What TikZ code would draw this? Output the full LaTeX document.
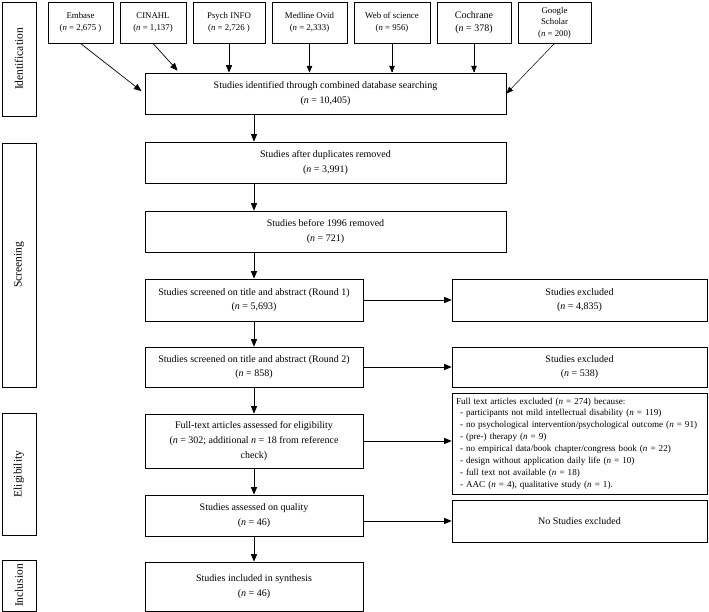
\documentclass[tikz,border=0pt]{standalone}
\usepackage{fontspec}
\setmainfont{Liberation Serif}
\usetikzlibrary{positioning,calc,arrows}
\tikzstyle{edge} = [-triangle 45, line width=0.7pt]
\tikzstyle{thinedge} = [-triangle 45, line width=0.5pt]
\tikzstyle{box} = [draw, line width=0.9pt, align=center, inner sep=0pt]
\newcommand{\nn}{\textit{n}}

\begin{document}
\begin{tikzpicture}[x=1pt, y=-1pt]
\tikzstyle{every node}=[font=\fontsize{10}{14.5}\selectfont]
\tikzstyle{stage}=[box, rotate=90, minimum height=34, font=\fontsize{11.5}{13}\selectfont]
\tikzstyle{db}=[box, minimum height=41, font=\fontsize{8.8}{12.5}\selectfont]
\tikzstyle{wide}=[box, minimum width=361, minimum height=41]
\tikzstyle{narrow}=[box, minimum width=218, minimum height=41]
\tikzstyle{excl}=[box, minimum width=255, minimum height=41]
\useasboundingbox (0,0) rectangle (709,612);

	% stages
	\node[stage, minimum width=114] (ident) at (19,59) {Identification};
	\node[stage, minimum width=244] (screen) at (19,265) {Screening};
	\node[stage, minimum width=122] (elig) at (19,474) {Eligibility};
	\node[stage, minimum width=51] (incl) at (19,585.5) {Inclusion};

	% databases
	\node[db, minimum width=65] (embase) at (80.5,22.5) {Embase\\(\nn{} = 2,675 )};
	\node[db, minimum width=66] (cinahl) at (153,22.5) {CINAHL\\(\nn{} = 1,137)};
	\node[db, minimum width=72] (psych) at (229,22.5) {Psych INFO\\(\nn{} = 2,726 )};
	\node[db, minimum width=75] (medline) at (309.5,22.5) {Medline Ovid\\(\nn{} = 2,333)};
	\node[db, minimum width=76] (wos) at (392,22.5) {Web of science\\(\nn{} = 956)};
	\node[db, minimum width=74, font=\fontsize{10}{13}\selectfont] (cochrane) at (474,22.5) {Cochrane\\(\nn{} = 378)};
	\node[db, minimum width=73, font=\fontsize{8.8}{11.5}\selectfont] (google) at (554.5,22.5) {Google\\Scholar\\(\nn{} = 200)};

	% main flow
	\node[wide] (combined) at (325.5,93.5) {Studies identified through combined database searching\\(\nn{} = 10,405)};
	\node[wide] (dup) at (325.5,162.5) {Studies after duplicates removed\\(\nn{} = 3,991)};
	\node[wide] (before) at (325.5,231.5) {Studies before 1996 removed\\(\nn{} = 721)};
	\node[narrow, minimum height=42] (round1) at (254,300) {Studies screened on title and abstract (Round 1)\\(\nn{} = 5,693)};
	\node[narrow, minimum height=40] (round2) at (254,367) {Studies screened on title and abstract (Round 2)\\(\nn{} = 858)};
	\node[narrow, minimum height=54, font=\fontsize{10}{15}\selectfont] (fulltext) at (254,441) {Full-text articles assessed for eligibility\\(\nn{} = 302; additional \nn{} = 18 from reference\\check)};
	\node[narrow] (quality) at (254,515.5) {Studies assessed on quality\\(\nn{} = 46)};
	\node[narrow, minimum height=49] (synth) at (254,586.5) {Studies included in synthesis\\(\nn{} = 46)};

	% exclusions
	\node[excl, minimum height=42] (excl1) at (579.5,300) {Studies excluded\\(\nn{} = 4,835)};
	\node[excl, minimum height=40] (excl2) at (579.5,367) {Studies excluded\\(\nn{} = 538)};
	\node[box, align=left, text width=247, inner xsep=4, minimum height=101, font=\fontsize{9.1}{11.9}\selectfont] (fullexcl) at (579.5,443.5) {Full text articles excluded (\nn{} = 274) because:\\
		\hspace*{4pt}- participants not mild intellectual disability (\nn{} = 119)\\
		\hspace*{4pt}- no psychological intervention/psychological outcome (\nn{} = 91)\\
		\hspace*{4pt}- (pre-) therapy (\nn{} = 9)\\
		\hspace*{4pt}- no empirical data/book chapter/congress book (\nn{} = 22)\\
		\hspace*{4pt}- design without application daily life (\nn{} = 10)\\
		\hspace*{4pt}- full text not available (\nn{} = 18)\\
		\hspace*{4pt}- AAC (\nn{} = 4), qualitative study (\nn{} = 1).};
	\node[excl, minimum height=42] (noexcl) at (579.5,521) {No Studies excluded};

	% database arrows
	\draw[edge, shorten >=4pt] (embase.south) -- (combined.west);
	\draw[edge] (cinahl.south) -- ($(combined.north west)+(33,-2)$);
	\draw[edge] (psych.south) -- (psych.south |- combined.north);
	\draw[thinedge] (medline.south) -- (medline.south |- combined.north);
	\draw[thinedge] (wos.south) -- (wos.south |- combined.north);
	\draw[thinedge] (cochrane.south) -- (cochrane.south |- combined.north);
	\draw[thinedge] (google.south) -- (combined.east);

	% flow arrows
	\draw[edge] (combined.south -| round1.north) -- (dup.north -| round1.north);
	\draw[edge] (dup.south -| round1.north) -- (before.north -| round1.north);
	\draw[edge] (before.south -| round1.north) -- (round1.north);
	\draw[edge] (round1) -- (round2);
	\draw[edge] (round2) -- (fulltext);
	\draw[edge] (fulltext) -- (quality);
	\draw[edge] (quality) -- (synth);
	\draw[edge] (round1.east) -- (excl1.west);
	\draw[edge] (round2.east) -- (excl2.west);
	\draw[edge] (fulltext.east) -- (fulltext.east -| fullexcl.west);
	\draw[edge] (quality.east |- noexcl.west) -- (noexcl.west);
\end{tikzpicture}
\end{document}
